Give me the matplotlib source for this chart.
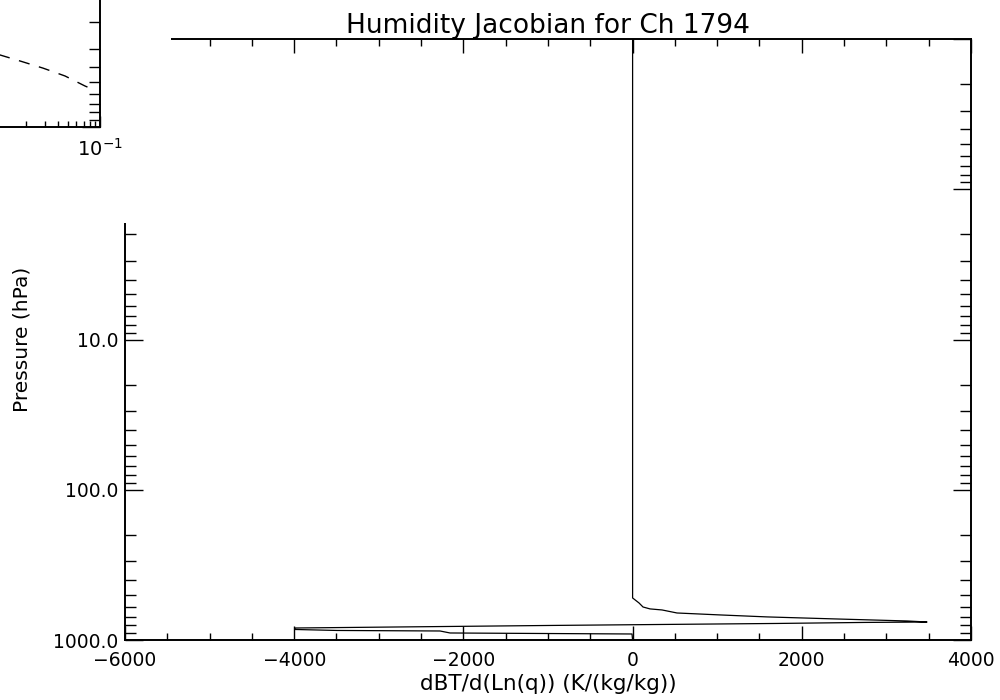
import matplotlib
matplotlib.use("Agg")
import matplotlib.pyplot as plt
from matplotlib.ticker import FixedLocator, NullFormatter, FixedFormatter, LogLocator
from matplotlib.patches import Rectangle

# ---- main profile data (Jacobian vs pressure) ----
pressure = [0.1, 525, 567, 603, 621, 631, 661, 681, 702, 724, 747, 759,
            764, 776, 800, 832, 851, 864, 871, 898, 912, 1000]
jacobian = [0, 0, 76, 123, 206, 348, 525, 1033, 1589, 2392, 3243, 3480,
            2746, 1707, -952, -3990, -3990, -3494, -2276, -2158, -7, 0]

x_major = [-6000, -4000, -2000, 0, 2000, 4000]
y_major = [0.1, 1.0, 10.0, 100.0, 1000.0]
y_major_labels = ["0.1", "1.0", "10.0", "100.0", "1000.0"]

# ---- remnant inset data (dashed curve) ----
inset_x = [0.0059, 0.0114, 0.0176, 0.029, 0.0468, 0.0722, 0.084]
inset_p = [288, 331, 363, 405, 457, 533, 558]

W, H = 1000, 700
fig = plt.figure(figsize=(10, 7), dpi=100)
fig.patch.set_facecolor("white")

def px(l, t, r, b):
    return [l / W, (H - b) / H, (r - l) / W, (b - t) / H]

ax = fig.add_axes(px(125, 39, 971, 640))
ax.set_zorder(0)
ax.plot(jacobian, pressure, color="black", lw=0.9)
ax.set_yscale("log")
ax.set_xlim(-6000, 4000)
ax.set_ylim(1000, 0.1)

ax.xaxis.set_major_locator(FixedLocator(x_major))
ax.xaxis.set_minor_locator(FixedLocator(list(range(-6000, 4001, 500))))
ax.yaxis.set_major_locator(FixedLocator(y_major))
ax.yaxis.set_major_formatter(FixedFormatter(y_major_labels))
ax.yaxis.set_minor_locator(LogLocator(base=10, subs=range(2, 10), numticks=20))
ax.yaxis.set_minor_formatter(NullFormatter())

ax.tick_params(axis="both", which="both", direction="in", top=True, right=True,
               color="black", width=1.0, labelsize=13.5)
ax.tick_params(axis="x", which="major", length=10, pad=8)
ax.tick_params(axis="x", which="minor", length=5)
ax.tick_params(axis="y", which="major", length=13, pad=5)
ax.tick_params(axis="y", which="minor", length=8)
for s in ax.spines.values():
    s.set_linewidth(1.4)

ax.set_title("Humidity Jacobian for Ch 1794", fontsize=19, pad=4)
ax.set_xlabel("dBT/d(Ln(q)) (K/(kg/kg))", fontsize=15.5, labelpad=3)
ax.set_ylabel("Pressure (hPa)", fontsize=14.5, va="center")
ax.yaxis.set_label_coords(-0.122, 0.5)

# white box covering the upper-left corner
fig.add_artist(Rectangle((0, (H - 223) / H), 171 / W, 223 / H,
                         transform=fig.transFigure, facecolor="white",
                         edgecolor="none", zorder=1))

# remnant inset plot at the top-left
axi = fig.add_axes(px(-112, -173, 100, 127))
axi.set_zorder(2)
axi.patch.set_visible(False)
axi.plot(inset_x, inset_p, color="black", lw=1.0, dashes=(8, 7))
axi.set_xscale("log")
axi.set_yscale("log")
axi.set_xlim(1e-3, 1e-1)
axi.set_ylim(1000, 10)
axi.spines["left"].set_visible(False)
axi.spines["top"].set_visible(False)
for s in ("right", "bottom"):
    axi.spines[s].set_linewidth(1.4)
axi.yaxis.tick_right()
axi.xaxis.set_major_locator(FixedLocator([0.1]))
axi.xaxis.set_major_formatter(FixedFormatter(["$10^{-1}$"]))
axi.xaxis.set_minor_locator(LogLocator(base=10, subs=range(2, 10), numticks=20))
axi.xaxis.set_minor_formatter(NullFormatter())
axi.yaxis.set_major_locator(FixedLocator([10, 100, 1000]))
axi.yaxis.set_major_formatter(NullFormatter())
axi.yaxis.set_minor_locator(LogLocator(base=10, subs=range(2, 10), numticks=20))
axi.yaxis.set_minor_formatter(NullFormatter())
axi.tick_params(axis="both", which="both", direction="in", width=1.0, labelsize=14)
axi.tick_params(axis="x", which="major", length=8, pad=8)
axi.tick_params(axis="x", which="minor", length=4.5)
axi.tick_params(axis="y", which="major", length=13, left=False, right=True)
axi.tick_params(axis="y", which="minor", length=8, left=False, right=True)

fig.savefig("out.png", dpi=100)
